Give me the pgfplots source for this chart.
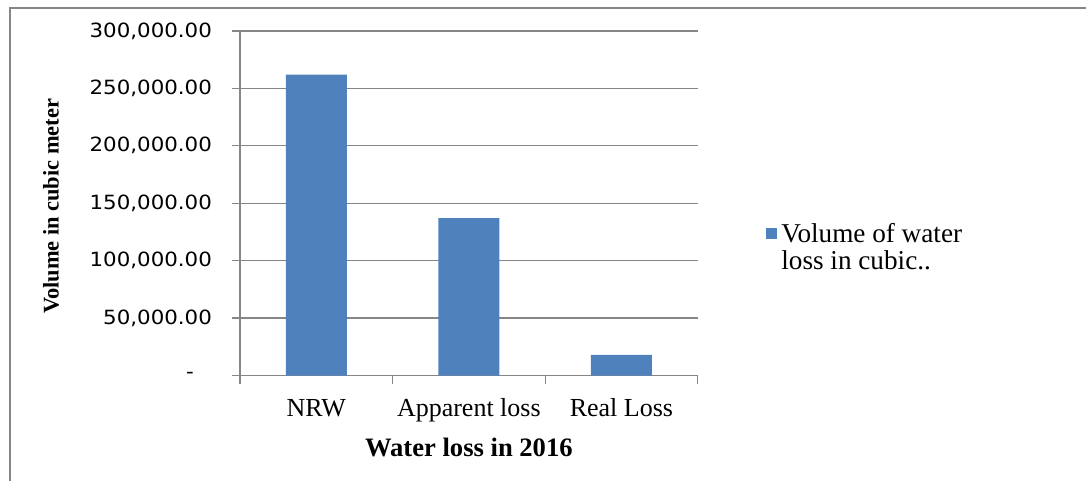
\documentclass[border=0pt]{standalone}
\usepackage{fontspec}
\setmainfont{Liberation Serif}
\newfontfamily\ticksans{DejaVu Sans}[FakeStretch=1.09]
\usepackage{pgfplots}
\pgfplotsset{compat=1.18}
\definecolor{barblue}{HTML}{4F81BD}
\definecolor{axisgray}{HTML}{868686}

\begin{document}
\begin{tikzpicture}
\useasboundingbox (0,0) rectangle (543pt,-240.5pt);
% outer chart frame
\draw[axisgray, line width=0.6pt] (5pt,-240.5pt) -- (5pt,-4pt) -- (543pt,-4pt);
\begin{axis}[
  at={(120pt,-187.75pt)}, anchor=south west,
  scale only axis, width=228.85pt, height=172.25pt,
  xmin=-0.5, xmax=2.5, ymin=0, ymax=300000,
  axis x line*=bottom, axis y line*=left,
  axis line style={axisgray, line width=0.6pt, -},
  tick style={axisgray, line width=0.6pt},
  tick align=outside, major tick length=4pt,
  xtick={-0.5,0.5,1.5,2.5}, xticklabels={},
  extra x ticks={0,1,2},
  extra x tick labels={NRW,Apparent loss,Real Loss},
  extra x tick style={grid=none, major tick length=0pt,
    xticklabel style={font=\fontsize{13}{15}\selectfont, anchor=base, yshift=-20.5pt}},
  scaled y ticks=false,
  ytick={0,50000,100000,150000,200000,250000,300000},
  yticklabels={{-\hspace*{9pt}},{50,000.00},{100,000.00},{150,000.00},{200,000.00},{250,000.00},{300,000.00}},
  yticklabel style={font=\ticksans\fontsize{9.8}{11}\selectfont, anchor=east, xshift=-6.5pt},
  ymajorgrids=true, xmajorgrids=false,
  grid style={axisgray, line width=0.6pt},
  ylabel={Volume in cubic meter},
  ylabel style={at={(axis description cs:-0.413,0.491)}, anchor=center,
    font=\bfseries\fontsize{11.2}{13}\selectfont},
  xlabel={Water loss in 2016},
  xlabel style={at={(axis description cs:0.5,-0.2357)}, anchor=base,
    font=\bfseries\fontsize{13.3}{15}\selectfont},
  legend style={at={(axis description cs:1.136,0.465)}, anchor=north west,
    draw=none, fill=none, font=\fontsize{13.6}{13.5}\selectfont,
    cells={align=left}},
  legend image code/.code={\fill[#1, draw=none] (-2.5pt,4.5pt) rectangle (3pt,10pt);},
]
\addplot[ybar, bar width=0.4, fill=barblue, draw=none, bar shift=0pt]
  coordinates {(0,262000) (1,137000) (2,18000)};
\addlegendentry{Volume of water\\loss in cubic..}
\end{axis}
\end{tikzpicture}
\end{document}
